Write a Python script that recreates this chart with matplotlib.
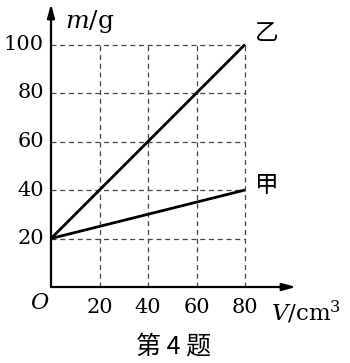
import matplotlib
matplotlib.use("Agg")
import matplotlib.pyplot as plt

plt.rcParams["mathtext.fontset"] = "dejavuserif"

volume = [0, 80]
mass_yi = [20, 100]
mass_jia = [20, 40]
xticks = [20, 40, 60, 80]
yticks = [20, 40, 60, 80, 100]

W, H = 350, 363
fig = plt.figure(figsize=(W / 100, H / 100), dpi=100)
x0, y0 = 51, 287
px_per_unit = 48.5 / 20
xmax = (296 - x0) / px_per_unit
ymax = (y0 - 4) / px_per_unit
ax = fig.add_axes([x0 / W, (H - y0) / H, (296 - x0) / W, (y0 - 4) / H])
ax.set_xlim(0, xmax)
ax.set_ylim(0, ymax)
ax.axis("off")

serif = "DejaVu Serif"
cjk = ["Noto Sans CJK SC", "DejaVu Sans"]

# grid
for xv in xticks:
    ax.plot([xv, xv], [0, max(yticks)], ls=(0, (4, 3)), color="#444444", lw=0.9)
for yv in yticks:
    ax.plot([0, max(xticks)], [yv, yv], ls=(0, (4, 3)), color="#444444", lw=0.9)

# axes arrows
ax.annotate("", xy=(xmax, 0), xytext=(0, 0),
            arrowprops=dict(arrowstyle="-|>,head_length=0.8,head_width=0.22", color="black", lw=1.6, shrinkA=0, shrinkB=0))
ax.annotate("", xy=(0, ymax), xytext=(0, 0),
            arrowprops=dict(arrowstyle="-|>,head_length=0.8,head_width=0.22", color="black", lw=1.6, shrinkA=0, shrinkB=0))

# lines
ax.plot(volume, mass_yi, color="black", lw=2.0, solid_capstyle="butt")
ax.plot(volume, mass_jia, color="black", lw=2.0, solid_capstyle="butt")

# tick labels
for xv in xticks:
    ax.text(xv, -8.6, str(xv), ha="center", va="center", fontsize=15, family=serif)
for yv in yticks:
    ax.text(-2.9, yv, str(yv), ha="right", va="center", fontsize=15, family=serif)
ax.text(-4.5, -6.6, r"$O$", ha="center", va="center", fontsize=16, family=serif)

ax.text(5.8, ymax - 7.4, r"$m$/g", ha="left", va="center", fontsize=18, family=serif)
fig.text(271 / W, 1 - 312 / H, r"$V$/cm$^3$", ha="left", va="center", fontsize=16.5, family=serif)

ax.text(84, 104.5, "乙", ha="left", va="center", fontsize=17, family=cjk, fontweight="light")
ax.text(84, 42, "甲", ha="left", va="center", fontsize=17, family=cjk, fontweight="light")

fig.text(174 / W, 1 - 347 / H, "第 4 题", ha="center", va="center", fontsize=18, family=cjk, fontweight="light")

fig.savefig("out.png", dpi=100)
